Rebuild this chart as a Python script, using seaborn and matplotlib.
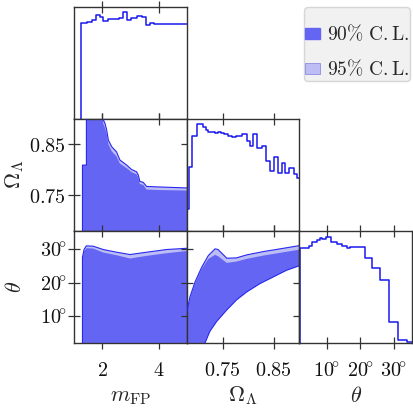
import numpy as np
import pandas as pd
import matplotlib
matplotlib.use("Agg")
import matplotlib.pyplot as plt
from matplotlib.patches import Patch
import seaborn as sns

# ------------------------------------------------------------------ data
labels = [r"$m_{\rm FP}$", r"$\Omega_\Lambda$", r"$\theta$"]
limits = [(1.0, 5.0), (0.68, 0.90), (1.9, 35.5)]
ticks = [[2, 4], [0.75, 0.85], [10, 20, 30]]
ticklabels = [[r"$2$", r"$4$"],
              [r"$0.75$", r"$0.85$"],
              [r"$10\!^{\circ}$", r"$20\!^{\circ}$", r"$30\!^{\circ}$"]]

# 1D marginal histograms (bin edges, heights)
m_edges = [1.226, 1.439, 1.616, 1.770, 1.911, 2.029, 2.207, 2.443, 2.597, 2.715,
           2.857, 3.011, 3.212, 3.389, 3.543, 3.684, 3.838, 5.0]
m_counts = [95.7, 96.7, 98.3, 103.7, 101.7, 98.0, 99.7, 100.0, 101.0, 106.3,
            99.0, 100.3, 103.0, 101.7, 94.0, 95.7, 94.3]

om_edges = [0.675, 0.6839, 0.6905, 0.7002, 0.712, 0.7166, 0.7205, 0.7349, 0.7414,
            0.7467, 0.7532, 0.7597, 0.7676, 0.7754, 0.7872, 0.797, 0.8035, 0.8101,
            0.8166, 0.8264, 0.8342, 0.8427, 0.8512, 0.8578, 0.8656, 0.8722, 0.88,
            0.8885, 0.895, 0.9]
om_counts = [22, 63.7, 94.7, 106.3, 103.7, 100.3, 99, 98, 99, 98, 96.3, 94.7, 93.7,
             94.7, 97, 89.7, 84.7, 96.3, 82.3, 84.7, 69.7, 59.7, 73.7, 58, 68, 58,
             63, 57, 53]

th_edges = [2.0, 4.77, 5.76, 7.04, 8.03, 8.72, 9.71, 11.2, 13.2, 14.7, 16.2, 17.1,
            19.1, 21.6, 23.6, 26.0, 28.5, 31.3, 34.0, 35.5]
th_counts = [94.7, 97.3, 101.3, 103, 105.3, 104, 106.3, 100.7, 98.7, 97.3, 94.7,
             96.3, 95.7, 84.7, 74.7, 63, 21.3, 3, 1.3]

# 2D credible regions: m_FP vs Omega_Lambda
mO_x = [1.29, 1.43, 1.43, 2.00, 2.03, 2.09, 2.15, 2.21, 2.33, 2.50, 2.62,
        2.86, 3.04, 3.21, 3.27, 3.33, 3.45, 3.57, 4.04, 5.05]
mO_u95 = [0.809, 0.809, 0.92, 0.92, 0.898, 0.891, 0.878, 0.858, 0.845, 0.835,
          0.819, 0.809, 0.800, 0.796, 0.790, 0.777, 0.775, 0.767, 0.766, 0.764]
mO_u90 = [0.809, 0.809, 0.92, 0.92, 0.890, 0.882, 0.870, 0.850, 0.836, 0.826,
          0.812, 0.803, 0.795, 0.791, 0.785, 0.772, 0.770, 0.761, 0.760, 0.759]
mO_lx = [1.29, 5.05]
mO_l = [0.66, 0.66]

# m_FP vs theta
mt_x = [1.29, 1.35, 1.43, 1.67, 2.03, 2.50, 2.98, 3.57, 4.28, 5.05]
mt_u95 = [27.6, 30.0, 31.0, 30.9, 29.9, 29.1, 28.4, 29.1, 29.9, 30.3]
mt_u90 = [27.2, 29.4, 30.3, 30.2, 29.0, 28.2, 27.2, 28.0, 28.8, 29.5]
mt_lx = [1.29, 5.05]
mt_l = [0.0, 0.0]

# Omega_Lambda vs theta
ot_ux = [0.678, 0.686, 0.696, 0.709, 0.722, 0.735, 0.741, 0.758, 0.777, 0.797,
         0.830, 0.862, 0.905]
ot_u95 = [9.8, 15.7, 20.2, 24.6, 28.1, 30.1, 29.9, 27.3, 27.4, 28.3, 29.3, 30.1, 31.2]
ot_u90 = [9.5, 15.2, 19.7, 24.1, 27.1, 28.3, 27.9, 25.9, 26.3, 27.1, 28.1, 28.9, 30.0]
ot_lx = [0.678, 0.713, 0.725, 0.738, 0.758, 0.777, 0.797, 0.823, 0.849, 0.875, 0.905]
ot_l = [0.0, 1.0, 5.4, 8.3, 11.8, 14.8, 17.2, 19.7, 21.7, 23.7, 25.3]

legend_labels = [r"$\mathrm{90\%\ C.L.}$", r"$\mathrm{95\%\ C.L.}$"]

# ------------------------------------------------------------------ style
sns.set_theme(style="white")
plt.rcParams.update({
    "font.family": ["DejaVu Serif"],
    "mathtext.fontset": "cm",
    "axes.edgecolor": "#333333",
    "axes.linewidth": 1.0,
    "xtick.color": "#333333",
    "ytick.color": "#333333",
    "xtick.labelcolor": "#111111",
    "ytick.labelcolor": "#111111",
})

DARK = "#6565f3"
LIGHT = "#bdbdf5"
EDGE = "#2828f0"
HLINE = "#1a1aee"

fig = plt.figure(figsize=(4.13, 4.12), dpi=100)
gs = fig.add_gridspec(3, 3, left=74.3 / 413, right=412 / 413,
                      top=1 - 6.5 / 412, bottom=1 - 343 / 412,
                      wspace=0, hspace=0)

hist_data = {0: (m_edges, m_counts), 1: (om_edges, om_counts), 2: (th_edges, th_counts)}


def draw_hist(ax, edges, counts):
    edges = [float(e) for e in edges]
    centers = [0.5 * (a + b) for a, b in zip(edges[:-1], edges[1:])]
    df = pd.DataFrame({"value": centers, "count": list(counts)})
    sns.histplot(data=df, x="value", weights="count", bins=edges, element="step",
                 fill=False, color=HLINE, linewidth=1.1, ax=ax)
    ax.vlines(edges[0], 0, counts[0], color=HLINE, linewidth=1.1)
    ax.set_ylim(0, 112)
    ax.set_ylabel("")
    ax.set_yticks([])


def draw_region(ax, x, y95, y90, lx, ly):
    x = np.asarray(x, float)
    lxr = np.asarray(lx, float)[::-1]
    lyr = np.asarray(ly, float)[::-1]
    px = np.r_[x, lxr]
    py95 = np.r_[np.asarray(y95, float), lyr]
    py90 = np.r_[np.asarray(y90, float), lyr]
    ax.fill(px, py95, facecolor=LIGHT, edgecolor="none", zorder=1)
    ax.fill(px, py90, facecolor=DARK, edgecolor="none", zorder=2)
    ax.fill(px, py95, facecolor="none", edgecolor=EDGE, linewidth=0.8, zorder=3)


axes = {}
for i in range(3):
    for j in range(i + 1):
        ax = fig.add_subplot(gs[i, j])
        axes[(i, j)] = ax
        if i == j:
            draw_hist(ax, *hist_data[i])
        elif (i, j) == (1, 0):
            draw_region(ax, mO_x, mO_u95, mO_u90, mO_lx, mO_l)
        elif (i, j) == (2, 0):
            draw_region(ax, mt_x, mt_u95, mt_u90, mt_lx, mt_l)
        elif (i, j) == (2, 1):
            draw_region(ax, ot_ux, ot_u95, ot_u90, ot_lx, ot_l)

        ax.set_xlim(*limits[j])
        ax.set_xticks(ticks[j])
        if i == 2:
            ax.set_xticklabels(ticklabels[j])
            ax.set_xlabel(labels[j], fontsize=16)
            ax.xaxis.set_label_coords(0.5, -0.37)
        else:
            ax.set_xticklabels([])
            ax.set_xlabel("")
        if i != j:
            ax.set_ylim(*limits[i])
            ax.set_yticks(ticks[i])
            if j == 0:
                ax.set_yticklabels(ticklabels[i])
                ax.set_ylabel(labels[i], fontsize=16)
                ax.yaxis.set_label_coords(-0.43, 0.5)
            else:
                ax.set_yticklabels([])
                ax.set_ylabel("")
        ax.tick_params(axis="both", direction="inout", length=9, width=0.9,
                       top=True, bottom=True, left=(i != j), right=(i != j),
                       labelsize=14.5)
        ax.tick_params(axis="x", pad=8.5)
        ax.tick_params(axis="y", pad=1.5)
        for s in ax.spines.values():
            s.set_visible(True)
            s.set_color("#333333")
            s.set_linewidth(1.0)

handles = [Patch(facecolor=DARK, edgecolor=DARK, label=legend_labels[0]),
           Patch(facecolor=LIGHT, edgecolor="#8d8de0", linewidth=0.6, label=legend_labels[1])]
fig.legend(handles=handles, loc="upper right",
           bbox_to_anchor=(410 / 413, 1 - 7.3 / 412), bbox_transform=fig.transFigure,
           borderaxespad=0, fontsize=14, frameon=True, fancybox=True,
           facecolor="#f1f1f1", edgecolor="#d6d6d6", framealpha=1,
           handlelength=0.74, handleheight=0.46, handletextpad=0.35,
           labelspacing=0.74, borderpad=0.07, title=" ", title_fontsize=1)

fig.savefig("out.png", dpi=100)
